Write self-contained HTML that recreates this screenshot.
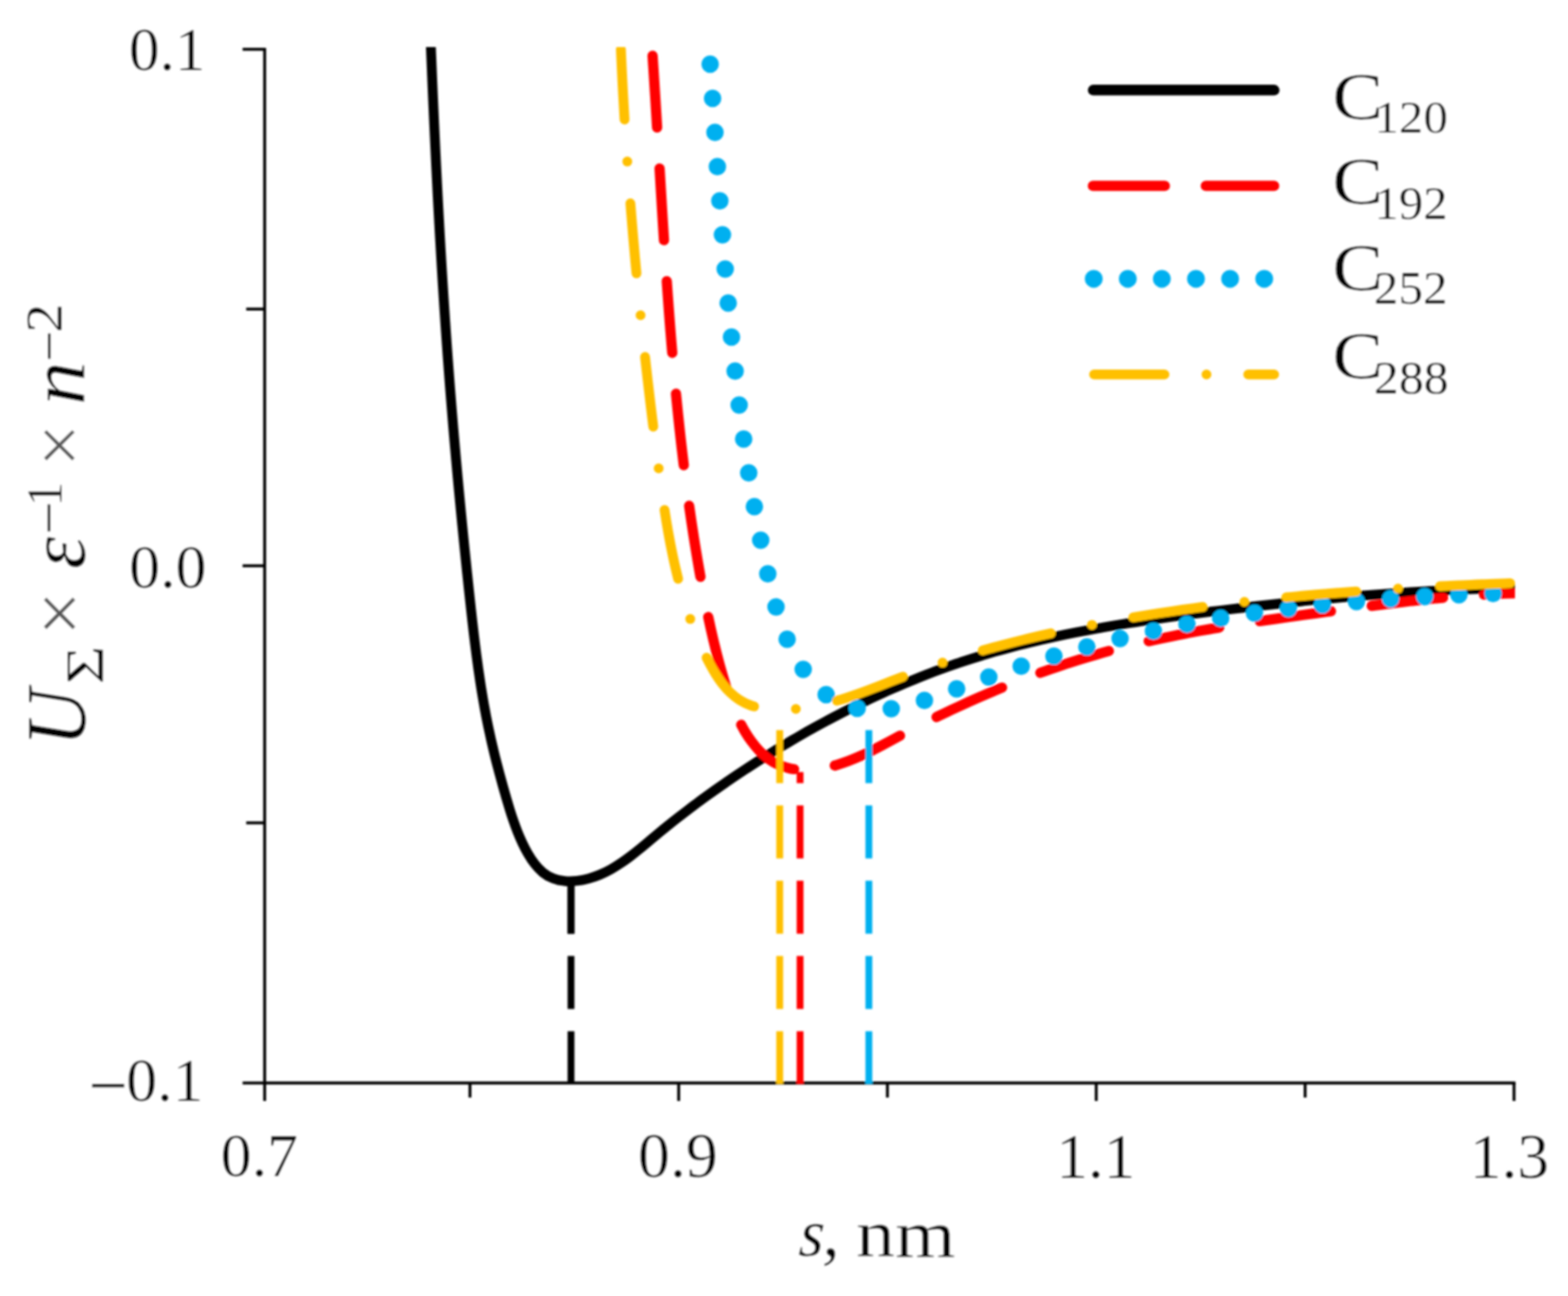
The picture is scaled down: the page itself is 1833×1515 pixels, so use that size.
<!DOCTYPE html>
<html><head><meta charset="utf-8"><title>Interaction potential</title>
<style>html,body{margin:0;padding:0;background:#fff;overflow:hidden}svg{display:block}</style>
</head><body>
<svg width="1833" height="1515" viewBox="0 0 1833 1515" font-family="'Liberation Serif', 'Times New Roman', serif">
<defs><clipPath id="pc"><rect x="309.0" y="55.0" width="1462.0" height="1211.0"/></clipPath>
<filter id="bl" x="-5%" y="-5%" width="110%" height="110%"><feGaussianBlur stdDeviation="1.00"/></filter></defs>
<rect width="1833" height="1515" fill="#fff"/>
<g filter="url(#bl)">
<g stroke="#000" stroke-width="3.4" fill="none" stroke-linecap="butt">
<path d="M309.4 57.6 V1266.0 H1769.9" stroke-linecap="square"/>
<path d="M283.6 57.6 H309.4"/>
<path d="M287.8 361.3 H309.4"/>
<path d="M283.6 661.4 H309.4"/>
<path d="M287.8 961.9 H309.4"/>
<path d="M283.6 1266.0 H309.4"/>
<path d="M309.4 1266.0 V1287.0"/>
<path d="M549.4 1266.0 V1283.0"/>
<path d="M793.4 1266.0 V1287.0"/>
<path d="M1037.4 1266.0 V1283.0"/>
<path d="M1281.5 1266.0 V1287.0"/>
<path d="M1525.7 1266.0 V1283.0"/>
<path d="M1769.9 1266.0 V1287.0"/>
</g>
<g clip-path="url(#pc)" fill="none" stroke-linecap="round" stroke-linejoin="round">
<path d="M503.10 40.02C503.29 44.69 503.47 49.37 503.66 54.05C503.85 58.73 504.04 63.40 504.24 68.08C504.43 72.76 504.62 77.44 504.82 82.11C505.02 86.79 505.21 91.47 505.41 96.15C505.61 100.82 505.81 105.50 506.02 110.18C506.22 114.85 506.43 119.53 506.64 124.21C506.84 128.88 507.05 133.56 507.27 138.24C507.48 142.92 507.69 147.59 507.91 152.27C508.13 156.94 508.34 161.62 508.57 166.30C508.79 170.97 509.01 175.65 509.24 180.33C509.46 185.00 509.69 189.68 509.92 194.35C510.16 199.03 510.39 203.71 510.63 208.38C510.86 213.06 511.10 217.73 511.35 222.41C511.59 227.08 511.83 231.76 512.08 236.43C512.33 241.11 512.58 245.78 512.84 250.46C513.09 255.13 513.35 259.81 513.61 264.48C513.87 269.15 514.13 273.83 514.40 278.50C514.67 283.18 514.94 287.85 515.21 292.52C515.48 297.20 515.76 301.87 516.04 306.54C516.32 311.22 516.61 315.89 516.89 320.56C517.18 325.23 517.47 329.91 517.77 334.58C518.06 339.25 518.36 343.92 518.66 348.59C518.97 353.27 519.27 357.94 519.58 362.61C519.89 367.28 520.21 371.95 520.52 376.62C520.84 381.29 521.16 385.96 521.49 390.63C521.81 395.30 522.14 399.97 522.48 404.64C522.81 409.31 523.15 413.98 523.49 418.65C523.84 423.32 524.18 427.99 524.54 432.66C524.89 437.33 525.24 441.99 525.60 446.66C525.96 451.33 526.33 456.00 526.70 460.66C527.07 465.33 527.44 470.00 527.82 474.66C528.20 479.33 528.58 483.99 528.97 488.66C529.36 493.33 529.75 497.99 530.14 502.65C530.54 507.32 530.94 511.98 531.34 516.65C531.75 521.31 532.16 525.98 532.57 530.64C532.98 535.30 533.40 539.97 533.82 544.63C534.24 549.29 534.67 553.95 535.09 558.61C535.52 563.28 535.96 567.94 536.39 572.60C536.83 577.26 537.27 581.92 537.72 586.58C538.16 591.24 538.61 595.90 539.06 600.56C539.51 605.22 539.97 609.88 540.43 614.54C540.89 619.20 541.35 623.86 541.82 628.51C542.29 633.17 542.76 637.83 543.24 642.49C543.71 647.14 544.19 651.80 544.67 656.46C545.15 661.11 545.64 665.77 546.13 670.43C546.62 675.08 547.11 679.74 547.60 684.39C548.10 689.05 548.60 693.70 549.10 698.36C549.60 703.01 550.11 707.67 550.62 712.32C551.13 716.97 551.65 721.63 552.18 726.28C552.71 730.93 553.24 735.58 553.79 740.23C554.34 744.88 554.90 749.53 555.48 754.17C556.06 758.82 556.66 763.46 557.27 768.10C557.88 772.74 558.52 777.38 559.17 782.02C559.83 786.65 560.51 791.28 561.21 795.91C561.92 800.54 562.65 805.16 563.41 809.78C564.17 814.40 564.96 819.02 565.78 823.63C566.60 828.24 567.45 832.84 568.34 837.44C569.23 842.03 570.15 846.62 571.11 851.20C572.07 855.78 573.07 860.36 574.11 864.93C575.14 869.49 576.21 874.05 577.31 878.60C578.41 883.15 579.55 887.70 580.71 892.23C581.87 896.77 583.06 901.30 584.28 905.81C585.50 910.34 586.74 914.85 588.01 919.35C589.28 923.87 590.57 928.37 591.88 932.85C593.20 937.35 594.53 941.84 595.91 946.30C597.30 950.77 598.73 955.22 600.27 959.66C601.79 964.05 603.41 968.44 605.16 972.82C606.89 977.11 608.74 981.40 610.77 985.69C612.75 989.87 614.90 994.07 617.25 998.15C619.61 1002.25 622.18 1006.21 625.00 1009.85C627.94 1013.65 631.15 1017.10 634.68 1019.98C638.36 1022.99 642.41 1025.35 646.78 1026.98C651.10 1028.59 655.72 1029.54 660.47 1029.94C665.05 1030.32 669.77 1030.19 674.48 1029.65C679.12 1029.12 683.75 1028.19 688.25 1026.96C692.81 1025.71 697.22 1024.16 701.51 1022.35C705.83 1020.53 710.02 1018.45 714.12 1016.17C718.19 1013.90 722.16 1011.42 726.06 1008.79C729.92 1006.19 733.71 1003.43 737.45 1000.58C741.16 997.75 744.82 994.82 748.45 991.84C752.06 988.88 755.65 985.86 759.23 982.85C762.83 979.83 766.41 976.82 770.01 973.85C773.63 970.86 777.26 967.90 780.90 964.98C784.56 962.04 788.23 959.13 791.91 956.26C795.61 953.37 799.31 950.51 803.03 947.68C806.76 944.84 810.50 942.03 814.26 939.24C818.02 936.45 821.80 933.68 825.59 930.94C829.38 928.20 833.19 925.48 837.02 922.78C840.84 920.08 844.68 917.40 848.54 914.75C852.39 912.09 856.26 909.46 860.15 906.84C864.03 904.23 867.93 901.64 871.84 899.06C875.75 896.49 879.67 893.94 883.62 891.41C887.55 888.88 891.50 886.37 895.47 883.88C899.44 881.40 903.42 878.93 907.41 876.48C911.40 874.04 915.41 871.62 919.43 869.22C923.45 866.82 927.49 864.45 931.54 862.10C935.58 859.75 939.64 857.42 943.72 855.11C947.79 852.81 951.88 850.53 955.99 848.27C960.09 846.02 964.20 843.78 968.33 841.58C972.46 839.37 976.60 837.19 980.76 835.04C984.92 832.88 989.09 830.75 993.27 828.65C997.45 826.55 1001.65 824.48 1005.86 822.43C1010.07 820.38 1014.29 818.36 1018.53 816.37C1022.77 814.37 1027.02 812.41 1031.28 810.47C1035.54 808.54 1039.82 806.63 1044.10 804.75C1048.39 802.88 1052.70 801.03 1057.01 799.21C1061.32 797.39 1065.65 795.61 1069.99 793.85C1074.33 792.09 1078.68 790.37 1083.05 788.68C1087.41 786.98 1091.79 785.32 1096.18 783.70C1100.57 782.07 1104.97 780.47 1109.38 778.91C1113.80 777.35 1118.22 775.82 1122.66 774.33C1127.10 772.84 1131.55 771.38 1136.00 769.96C1140.47 768.53 1144.94 767.15 1149.42 765.79C1153.90 764.44 1158.39 763.12 1162.89 761.84C1167.39 760.55 1171.91 759.30 1176.43 758.08C1180.94 756.86 1185.47 755.67 1190.01 754.51C1194.54 753.35 1199.09 752.22 1203.64 751.12C1208.19 750.02 1212.74 748.95 1217.31 747.90C1221.87 746.86 1226.44 745.84 1231.02 744.85C1235.59 743.86 1240.17 742.89 1244.76 741.95C1249.34 741.00 1253.93 740.08 1258.53 739.19C1263.12 738.29 1267.72 737.42 1272.33 736.56C1276.93 735.71 1281.54 734.88 1286.15 734.06C1290.76 733.25 1295.37 732.45 1299.99 731.68C1304.60 730.90 1309.22 730.14 1313.85 729.40C1318.47 728.65 1323.09 727.93 1327.72 727.21C1332.35 726.50 1336.97 725.80 1341.61 725.12C1346.24 724.43 1350.87 723.76 1355.50 723.10C1360.14 722.44 1364.78 721.79 1369.41 721.15C1374.05 720.51 1378.69 719.88 1383.33 719.25C1387.97 718.63 1392.61 718.02 1397.25 717.41C1401.89 716.80 1406.54 716.20 1411.18 715.61C1415.82 715.01 1420.47 714.42 1425.11 713.84C1429.76 713.26 1434.41 712.68 1439.05 712.12C1443.70 711.55 1448.35 710.99 1453.00 710.44C1457.64 709.88 1462.29 709.34 1466.94 708.80C1471.60 708.26 1476.25 707.73 1480.90 707.21C1485.55 706.69 1490.20 706.17 1494.86 705.67C1499.51 705.16 1504.17 704.66 1508.82 704.17C1513.48 703.68 1518.14 703.20 1522.79 702.73C1527.45 702.26 1532.11 701.79 1536.77 701.34C1541.43 700.88 1546.09 700.44 1550.75 700.00C1555.41 699.57 1560.07 699.14 1564.74 698.72C1569.40 698.30 1574.06 697.90 1578.73 697.50C1583.39 697.10 1588.06 696.71 1592.72 696.33C1597.39 695.96 1602.06 695.59 1606.72 695.23C1611.39 694.87 1616.06 694.53 1620.73 694.19C1625.40 693.85 1630.07 693.53 1634.74 693.21C1639.41 692.90 1644.08 692.59 1648.76 692.30C1653.43 692.01 1658.10 691.72 1662.77 691.45C1667.45 691.18 1672.12 690.92 1676.80 690.68C1681.47 690.43 1686.15 690.19 1690.82 689.97C1695.50 689.74 1700.18 689.53 1704.85 689.33C1709.53 689.13 1714.21 688.95 1718.89 688.77C1723.56 688.60 1728.24 688.43 1732.92 688.28C1737.60 688.13 1742.28 688.00 1746.96 687.87C1751.64 687.75 1756.32 687.64 1761.00 687.54C1765.68 687.44 1770.36 687.36 1775.04 687.28" stroke="#000000" stroke-width="11.5"/>
<path d="M762.88 65.19C763.19 69.87 763.50 74.54 763.81 79.21C764.11 83.89 764.41 88.56 764.71 93.24C765.01 97.91 765.31 102.58 765.60 107.26C765.90 111.93 766.19 116.61 766.48 121.29C766.77 125.96 767.05 130.63 767.34 135.31C767.63 139.98 767.91 144.66 768.19 149.34C768.48 154.01 768.76 158.69 769.04 163.36C769.32 168.04 769.60 172.71 769.88 177.39C770.16 182.06 770.44 186.74 770.72 191.41C771.00 196.09 771.28 200.76 771.57 205.44C771.85 210.12 772.13 214.79 772.41 219.47C772.70 224.14 772.98 228.82 773.27 233.49C773.55 238.17 773.84 242.84 774.13 247.52C774.42 252.19 774.71 256.87 775.00 261.54C775.30 266.22 775.59 270.89 775.89 275.57C776.19 280.24 776.49 284.91 776.80 289.59C777.10 294.26 777.41 298.94 777.72 303.61C778.04 308.28 778.35 312.96 778.67 317.63C778.99 322.30 779.32 326.97 779.65 331.65C779.98 336.32 780.31 340.99 780.65 345.66C780.99 350.33 781.33 355.01 781.68 359.68C782.03 364.35 782.38 369.02 782.75 373.69C783.11 378.36 783.47 383.03 783.85 387.70C784.22 392.37 784.60 397.03 784.98 401.70C785.37 406.37 785.76 411.04 786.17 415.70C786.57 420.37 786.97 425.04 787.39 429.70C787.80 434.37 788.23 439.03 788.66 443.70C789.09 448.36 789.53 453.02 789.98 457.69C790.43 462.35 790.88 467.01 791.35 471.67C791.81 476.33 792.29 480.99 792.77 485.65C793.26 490.31 793.75 494.97 794.26 499.62C794.76 504.28 795.27 508.94 795.80 513.59C796.32 518.24 796.86 522.90 797.40 527.55C797.95 532.20 798.50 536.85 799.07 541.50C799.64 546.15 800.22 550.80 800.81 555.44C801.40 560.09 802.00 564.74 802.62 569.38C803.23 574.02 803.86 578.67 804.50 583.30C805.14 587.95 805.79 592.58 806.46 597.22C807.12 601.86 807.80 606.49 808.49 611.12C809.18 615.76 809.89 620.39 810.61 625.01C811.33 629.64 812.06 634.27 812.81 638.89C813.56 643.52 814.32 648.14 815.10 652.76C815.88 657.38 816.67 661.99 817.48 666.61C818.28 671.22 819.11 675.83 819.94 680.44C820.78 685.05 821.64 689.65 822.52 694.25C823.39 698.85 824.29 703.45 825.21 708.04C826.13 712.63 827.07 717.22 828.04 721.81C829.01 726.39 830.01 730.96 831.03 735.54C832.06 740.10 833.11 744.67 834.20 749.23C835.29 753.78 836.41 758.32 837.56 762.87C838.72 767.40 839.91 771.93 841.14 776.46C842.37 780.97 843.63 785.48 844.94 789.98C846.25 794.47 847.59 798.96 849.00 803.44C850.40 807.91 851.86 812.36 853.42 816.77C854.98 821.20 856.64 825.58 858.41 829.91C860.19 834.25 862.10 838.53 864.16 842.73C866.22 846.94 868.44 851.07 870.83 855.09C873.23 859.10 875.81 863.01 878.60 866.79C881.39 870.57 884.39 874.21 887.59 877.58C890.86 881.02 894.35 884.18 898.05 886.94C901.86 889.77 905.89 892.16 910.14 894.04C914.42 895.92 918.90 897.31 923.51 898.28C928.05 899.22 932.71 899.75 937.45 899.93C942.08 900.10 946.78 899.94 951.48 899.49C956.13 899.05 960.77 898.33 965.37 897.39C969.98 896.46 974.52 895.30 978.99 893.96C983.49 892.62 987.92 891.10 992.29 889.44C996.67 887.78 1000.99 885.97 1005.27 884.05C1009.54 882.15 1013.77 880.13 1017.97 878.04C1022.16 875.96 1026.32 873.81 1030.47 871.63C1034.61 869.44 1038.74 867.23 1042.87 865.01C1046.99 862.79 1051.12 860.58 1055.26 858.39C1059.40 856.20 1063.55 854.03 1067.71 851.88C1071.88 849.73 1076.05 847.60 1080.23 845.49C1084.41 843.38 1088.61 841.29 1092.81 839.23C1097.01 837.16 1101.23 835.11 1105.45 833.09C1109.67 831.07 1113.91 829.07 1118.15 827.09C1122.40 825.11 1126.66 823.15 1130.92 821.22C1135.19 819.29 1139.47 817.38 1143.75 815.50C1148.04 813.61 1152.34 811.75 1156.65 809.92C1160.96 808.08 1165.28 806.27 1169.61 804.49C1173.94 802.70 1178.28 800.94 1182.63 799.21C1186.99 797.48 1191.35 795.77 1195.72 794.09C1200.09 792.41 1204.48 790.76 1208.87 789.14C1213.26 787.51 1217.67 785.92 1222.08 784.35C1226.49 782.78 1230.92 781.24 1235.35 779.73C1239.79 778.22 1244.23 776.74 1248.68 775.29C1253.14 773.84 1257.60 772.42 1262.07 771.03C1266.55 769.64 1271.03 768.28 1275.52 766.96C1280.01 765.63 1284.51 764.33 1289.02 763.07C1293.53 761.80 1298.05 760.57 1302.58 759.37C1307.11 758.17 1311.64 757.01 1316.19 755.87C1320.73 754.73 1325.28 753.62 1329.84 752.54C1334.39 751.46 1338.96 750.40 1343.53 749.38C1348.10 748.35 1352.67 747.35 1357.26 746.38C1361.84 745.40 1366.42 744.45 1371.02 743.52C1375.61 742.59 1380.20 741.69 1384.80 740.80C1389.40 739.92 1394.00 739.06 1398.61 738.21C1403.22 737.37 1407.83 736.55 1412.45 735.74C1417.06 734.94 1421.68 734.15 1426.30 733.37C1430.91 732.60 1435.54 731.85 1440.16 731.10C1444.79 730.36 1449.41 729.63 1454.04 728.92C1458.67 728.20 1463.30 727.50 1467.94 726.81C1472.57 726.11 1477.20 725.43 1481.84 724.76C1486.47 724.09 1491.11 723.42 1495.75 722.77C1500.38 722.11 1505.02 721.46 1509.66 720.82C1514.30 720.18 1518.94 719.54 1523.58 718.90C1528.23 718.27 1532.87 717.64 1537.51 717.01C1542.15 716.39 1546.79 715.76 1551.43 715.14C1556.08 714.51 1560.72 713.89 1565.36 713.26C1570.00 712.64 1574.65 712.02 1579.29 711.40C1583.93 710.78 1588.57 710.16 1593.22 709.55C1597.86 708.94 1602.51 708.34 1607.15 707.74C1611.80 707.14 1616.44 706.55 1621.09 705.98C1625.74 705.40 1630.39 704.83 1635.04 704.27C1639.69 703.71 1644.34 703.17 1649.00 702.64C1653.65 702.11 1658.30 701.59 1662.96 701.09C1667.62 700.59 1672.28 700.11 1676.94 699.64C1681.60 699.18 1686.26 698.73 1690.93 698.30C1695.59 697.88 1700.25 697.47 1704.92 697.09C1709.59 696.71 1714.26 696.35 1718.94 696.01C1723.60 695.68 1728.28 695.37 1732.96 695.09C1737.63 694.81 1742.30 694.55 1746.99 694.32C1751.66 694.10 1756.34 693.90 1761.03 693.73C1765.70 693.57 1770.38 693.43 1775.07 693.33" stroke="#FF0000" stroke-width="12.0" stroke-dasharray="84 48" stroke-dashoffset="0.00"/>
<path d="M830.17 75.04C830.50 79.70 830.84 84.37 831.17 89.03C831.51 93.70 831.84 98.36 832.17 103.03C832.50 107.69 832.83 112.36 833.16 117.03C833.49 121.69 833.82 126.36 834.14 131.03C834.47 135.69 834.80 140.36 835.12 145.03C835.45 149.69 835.77 154.36 836.10 159.02C836.43 163.69 836.75 168.35 837.08 173.02C837.41 177.69 837.74 182.35 838.07 187.02C838.40 191.69 838.73 196.35 839.06 201.02C839.40 205.68 839.73 210.35 840.07 215.01C840.41 219.68 840.75 224.34 841.09 229.01C841.43 233.67 841.78 238.34 842.12 243.00C842.47 247.67 842.82 252.33 843.18 257.00C843.53 261.66 843.89 266.33 844.26 270.99C844.62 275.65 844.99 280.32 845.36 284.98C845.73 289.64 846.11 294.30 846.49 298.97C846.87 303.63 847.26 308.29 847.65 312.95C848.04 317.61 848.44 322.27 848.84 326.93C849.24 331.59 849.65 336.25 850.07 340.91C850.49 345.57 850.91 350.23 851.34 354.89C851.77 359.55 852.20 364.20 852.65 368.86C853.09 373.52 853.54 378.17 854.00 382.83C854.46 387.48 854.93 392.14 855.40 396.79C855.88 401.44 856.36 406.09 856.86 410.75C857.35 415.40 857.85 420.05 858.36 424.70C858.87 429.35 859.39 434.00 859.92 438.64C860.45 443.29 860.99 447.94 861.54 452.58C862.09 457.23 862.65 461.87 863.23 466.51C863.80 471.16 864.38 475.80 864.97 480.44C865.57 485.08 866.17 489.72 866.79 494.35C867.41 498.99 868.03 503.62 868.68 508.26C869.32 512.89 869.97 517.52 870.64 522.15C871.31 526.78 871.99 531.41 872.68 536.03C873.38 540.66 874.09 545.28 874.81 549.90C875.54 554.52 876.27 559.14 877.03 563.76C877.78 568.38 878.55 572.99 879.33 577.60C880.12 582.21 880.92 586.82 881.74 591.43C882.55 596.03 883.38 600.63 884.24 605.24C885.08 609.83 885.95 614.43 886.84 619.03C887.72 623.62 888.62 628.21 889.54 632.80C890.46 637.38 891.40 641.96 892.35 646.54C893.31 651.12 894.28 655.69 895.28 660.27C896.27 664.83 897.28 669.40 898.31 673.97C899.34 678.53 900.40 683.09 901.50 687.64C902.59 692.19 903.73 696.73 904.92 701.24C906.12 705.77 907.37 710.28 908.70 714.76C910.03 719.25 911.44 723.71 912.94 728.14C914.44 732.57 916.04 736.97 917.74 741.32C919.45 745.68 921.27 749.99 923.22 754.24C925.17 758.49 927.25 762.68 929.47 766.80C931.69 770.91 934.05 774.94 936.57 778.90C939.08 782.82 941.74 786.68 944.59 790.41C947.43 794.14 950.44 797.74 953.65 801.12C956.89 804.53 960.32 807.73 963.96 810.62C967.64 813.54 971.54 816.14 975.62 818.40C979.72 820.68 983.99 822.62 988.37 824.22C992.78 825.83 997.30 827.10 1001.87 828.02C1006.46 828.94 1011.10 829.51 1015.78 829.78C1020.42 830.04 1025.10 830.00 1029.80 829.71C1034.42 829.42 1039.07 828.88 1043.74 828.13C1048.31 827.40 1052.90 826.47 1057.50 825.39C1062.01 824.32 1066.53 823.10 1071.05 821.77C1075.52 820.46 1079.98 819.03 1084.43 817.54C1088.86 816.05 1093.27 814.49 1097.67 812.89C1102.08 811.29 1106.47 809.66 1110.83 808.03C1115.25 806.38 1119.63 804.73 1123.98 803.12C1128.40 801.48 1132.79 799.87 1137.16 798.28C1141.58 796.68 1145.98 795.10 1150.36 793.54C1154.79 791.97 1159.20 790.42 1163.60 788.89C1168.03 787.36 1172.46 785.85 1176.88 784.36C1181.32 782.87 1185.75 781.40 1190.20 779.95C1194.64 778.50 1199.10 777.07 1203.57 775.66C1208.02 774.26 1212.49 772.88 1216.97 771.51C1221.44 770.15 1225.92 768.81 1230.41 767.49C1234.90 766.17 1239.39 764.87 1243.89 763.59C1248.39 762.31 1252.89 761.05 1257.41 759.81C1261.92 758.58 1266.43 757.36 1270.96 756.16C1275.48 754.96 1280.00 753.79 1284.54 752.63C1289.07 751.47 1293.61 750.33 1298.15 749.22C1302.69 748.10 1307.24 747.00 1311.79 745.92C1316.34 744.85 1320.90 743.79 1325.46 742.75C1330.02 741.71 1334.59 740.69 1339.16 739.69C1343.73 738.69 1348.30 737.71 1352.88 736.74C1357.45 735.78 1362.04 734.84 1366.62 733.92C1371.21 732.99 1375.80 732.09 1380.39 731.20C1384.98 730.31 1389.58 729.45 1394.18 728.60C1398.78 727.75 1403.38 726.92 1407.99 726.11C1412.60 725.30 1417.21 724.51 1421.82 723.73C1426.43 722.96 1431.05 722.20 1435.67 721.46C1440.29 720.72 1444.91 720.00 1449.53 719.30C1454.16 718.59 1458.78 717.91 1463.41 717.24C1468.04 716.57 1472.67 715.91 1477.31 715.28C1481.94 714.64 1486.58 714.02 1491.22 713.41C1495.85 712.81 1500.49 712.22 1505.14 711.65C1509.78 711.08 1514.42 710.52 1519.07 709.98C1523.72 709.43 1528.36 708.91 1533.01 708.39C1537.66 707.88 1542.31 707.38 1546.97 706.90C1551.62 706.42 1556.27 705.95 1560.93 705.49C1565.58 705.04 1570.24 704.60 1574.90 704.17C1579.56 703.74 1584.21 703.32 1588.87 702.92C1593.54 702.52 1598.20 702.13 1602.86 701.76C1607.52 701.38 1612.18 701.01 1616.85 700.66C1621.51 700.31 1626.18 699.97 1630.84 699.64C1635.51 699.31 1640.18 699.00 1644.85 698.69C1649.51 698.39 1654.18 698.09 1658.85 697.81C1663.52 697.52 1668.19 697.25 1672.86 696.99C1677.53 696.73 1682.20 696.47 1686.87 696.23C1691.54 695.99 1696.21 695.76 1700.89 695.53C1705.56 695.31 1710.23 695.09 1714.90 694.89C1719.58 694.68 1724.25 694.49 1728.92 694.30C1733.60 694.11 1738.27 693.93 1742.95 693.76C1747.62 693.59 1752.30 693.42 1756.97 693.27C1761.65 693.11 1766.32 692.96 1771.00 692.82C1775.67 692.68 1780.35 692.54 1785.02 692.42" stroke="#00B0F0" stroke-width="20.5" stroke-dasharray="0 40" stroke-dashoffset="0.00"/>
<path d="M725.06 39.88C725.26 44.58 725.46 49.27 725.66 53.96C725.87 58.65 726.08 63.34 726.30 68.03C726.51 72.72 726.74 77.41 726.97 82.10C727.20 86.79 727.44 91.48 727.68 96.16C727.92 100.86 728.17 105.54 728.43 110.23C728.69 114.92 728.95 119.61 729.22 124.29C729.49 128.98 729.76 133.67 730.04 138.36C730.33 143.04 730.61 147.73 730.91 152.41C731.20 157.10 731.50 161.79 731.81 166.47C732.12 171.16 732.43 175.84 732.75 180.53C733.07 185.21 733.39 189.89 733.72 194.58C734.06 199.26 734.39 203.94 734.74 208.63C735.08 213.31 735.43 217.99 735.79 222.67C736.14 227.36 736.51 232.04 736.87 236.72C737.24 241.40 737.62 246.08 738.00 250.76C738.38 255.44 738.76 260.12 739.16 264.80C739.55 269.47 739.95 274.15 740.35 278.83C740.76 283.51 741.17 288.19 741.59 292.86C742.00 297.54 742.42 302.21 742.85 306.89C743.28 311.57 743.72 316.24 744.16 320.92C744.60 325.59 745.04 330.26 745.50 334.94C745.95 339.61 746.41 344.28 746.87 348.96C747.33 353.63 747.80 358.30 748.28 362.97C748.75 367.64 749.23 372.31 749.72 376.98C750.21 381.65 750.70 386.32 751.20 390.99C751.70 395.66 752.20 400.33 752.71 404.99C753.22 409.66 753.74 414.33 754.26 419.00C754.78 423.66 755.30 428.33 755.84 432.99C756.37 437.66 756.90 442.32 757.45 446.98C757.99 451.65 758.54 456.31 759.09 460.97C759.65 465.64 760.21 470.30 760.77 474.96C761.34 479.62 761.91 484.28 762.48 488.94C763.06 493.60 763.64 498.26 764.23 502.92C764.81 507.58 765.40 512.23 766.00 516.89C766.60 521.55 767.20 526.20 767.81 530.86C768.41 535.52 769.03 540.17 769.64 544.83C770.26 549.48 770.88 554.13 771.52 558.79C772.15 563.44 772.79 568.09 773.44 572.74C774.10 577.39 774.76 582.04 775.45 586.68C776.14 591.33 776.85 595.97 777.58 600.61C778.31 605.25 779.07 609.88 779.85 614.51C780.64 619.14 781.45 623.76 782.30 628.38C783.15 633.00 784.03 637.61 784.96 642.21C785.88 646.82 786.84 651.41 787.85 656.00C788.86 660.58 789.91 665.16 791.02 669.72C792.12 674.29 793.27 678.84 794.48 683.37C795.69 687.91 796.95 692.43 798.27 696.94C799.60 701.44 800.98 705.93 802.42 710.40C803.87 714.86 805.38 719.31 806.96 723.73C808.54 728.15 810.18 732.55 811.90 736.92C813.62 741.28 815.41 745.62 817.28 749.94C819.14 754.24 821.08 758.51 823.10 762.76C825.12 766.99 827.21 771.21 829.40 775.36C831.61 779.54 833.92 783.64 836.37 787.60C838.87 791.64 841.52 795.54 844.35 799.20C847.26 802.97 850.37 806.50 853.72 809.70C857.14 812.98 860.80 815.91 864.76 818.41C868.69 820.89 872.92 822.93 877.41 824.52C881.75 826.06 886.32 827.21 891.04 828.03C895.59 828.82 900.28 829.30 905.04 829.53C909.69 829.76 914.40 829.75 919.12 829.55C923.82 829.35 928.52 828.96 933.16 828.44C937.86 827.92 942.51 827.25 947.10 826.45C951.75 825.65 956.35 824.72 960.91 823.68C965.50 822.63 970.05 821.46 974.56 820.21C979.09 818.95 983.59 817.60 988.05 816.17C992.53 814.74 996.98 813.24 1001.40 811.68C1005.83 810.12 1010.24 808.50 1014.63 806.85C1019.03 805.20 1023.41 803.51 1027.79 801.81C1032.16 800.11 1036.53 798.39 1040.90 796.68C1045.28 794.97 1049.65 793.26 1054.03 791.58C1058.42 789.90 1062.81 788.25 1067.22 786.62C1071.62 785.00 1076.04 783.41 1080.47 781.85C1084.90 780.29 1089.34 778.77 1093.79 777.26C1098.24 775.77 1102.70 774.29 1107.16 772.85C1111.63 771.41 1116.11 770.00 1120.60 768.61C1125.08 767.22 1129.58 765.86 1134.08 764.53C1138.58 763.20 1143.09 761.89 1147.61 760.61C1152.12 759.33 1156.65 758.08 1161.18 756.85C1165.71 755.62 1170.25 754.41 1174.79 753.23C1179.34 752.05 1183.89 750.89 1188.44 749.75C1193.00 748.61 1197.56 747.50 1202.13 746.41C1206.69 745.31 1211.26 744.24 1215.84 743.19C1220.42 742.14 1225.00 741.11 1229.58 740.10C1234.17 739.09 1238.76 738.10 1243.35 737.12C1247.94 736.15 1252.54 735.20 1257.14 734.26C1261.74 733.32 1266.35 732.40 1270.95 731.50C1275.56 730.60 1280.17 729.71 1284.79 728.84C1289.40 727.97 1294.02 727.11 1298.64 726.27C1303.26 725.43 1307.88 724.61 1312.50 723.80C1317.13 722.99 1321.76 722.20 1326.39 721.42C1331.02 720.64 1335.65 719.88 1340.28 719.13C1344.92 718.38 1349.56 717.65 1354.20 716.93C1358.84 716.21 1363.48 715.50 1368.12 714.81C1372.77 714.12 1377.41 713.44 1382.06 712.77C1386.71 712.11 1391.36 711.46 1396.01 710.82C1400.66 710.18 1405.31 709.56 1409.97 708.95C1414.62 708.34 1419.28 707.74 1423.94 707.15C1428.60 706.57 1433.26 705.99 1437.92 705.43C1442.58 704.87 1447.24 704.32 1451.91 703.78C1456.57 703.25 1461.24 702.72 1465.91 702.21C1470.57 701.69 1475.24 701.19 1479.91 700.70C1484.58 700.21 1489.25 699.73 1493.92 699.26C1498.59 698.79 1503.27 698.34 1507.94 697.89C1512.62 697.44 1517.29 697.00 1521.97 696.58C1526.64 696.15 1531.32 695.73 1536.00 695.33C1540.67 694.92 1545.35 694.52 1550.03 694.13C1554.71 693.75 1559.39 693.37 1564.07 693.00C1568.75 692.63 1573.43 692.27 1578.12 691.92C1582.80 691.57 1587.48 691.23 1592.16 690.89C1596.85 690.56 1601.53 690.23 1606.21 689.92C1610.90 689.60 1615.58 689.29 1620.27 688.99C1624.96 688.68 1629.64 688.39 1634.33 688.10C1639.01 687.82 1643.70 687.54 1648.39 687.27C1653.08 686.99 1657.76 686.73 1662.45 686.47C1667.14 686.21 1671.83 685.96 1676.52 685.71C1681.21 685.47 1685.89 685.23 1690.58 684.99C1695.27 684.76 1699.96 684.53 1704.65 684.31C1709.34 684.09 1714.03 683.87 1718.72 683.66C1723.41 683.45 1728.11 683.25 1732.80 683.05C1737.49 682.85 1742.18 682.65 1746.87 682.46C1751.56 682.27 1756.25 682.08 1760.94 681.90C1765.64 681.72 1770.33 681.54 1775.02 681.36" stroke="#FFC000" stroke-width="11.5" stroke-dasharray="82 49.15 0 49.15" stroke-dashoffset="-18.03"/>
</g>
<path d="M667.5 1031.0 V1091.5" stroke="#000000" stroke-width="8.0" stroke-linecap="butt" fill="none"/>
<path d="M667.5 1029.5 V1091.5" stroke="#000000" stroke-width="8.0" stroke-linecap="butt" fill="none"/>
<path d="M667.5 1117.5 V1179.5" stroke="#000000" stroke-width="8.0" stroke-linecap="butt" fill="none"/>
<path d="M667.5 1205.5 V1267.0" stroke="#000000" stroke-width="8.0" stroke-linecap="butt" fill="none"/>
<path d="M935.3 902.5 V915.5" stroke="#FF0000" stroke-width="8.0" stroke-linecap="butt" fill="none"/>
<path d="M935.3 941.5 V1003.5" stroke="#FF0000" stroke-width="8.0" stroke-linecap="butt" fill="none"/>
<path d="M935.3 1029.5 V1091.5" stroke="#FF0000" stroke-width="8.0" stroke-linecap="butt" fill="none"/>
<path d="M935.3 1117.5 V1179.5" stroke="#FF0000" stroke-width="8.0" stroke-linecap="butt" fill="none"/>
<path d="M935.3 1205.5 V1267.0" stroke="#FF0000" stroke-width="8.0" stroke-linecap="butt" fill="none"/>
<path d="M911.5 853.5 V915.5" stroke="#FFC000" stroke-width="8.0" stroke-linecap="butt" fill="none"/>
<path d="M911.5 941.5 V1003.5" stroke="#FFC000" stroke-width="8.0" stroke-linecap="butt" fill="none"/>
<path d="M911.5 1029.5 V1091.5" stroke="#FFC000" stroke-width="8.0" stroke-linecap="butt" fill="none"/>
<path d="M911.5 1117.5 V1179.5" stroke="#FFC000" stroke-width="8.0" stroke-linecap="butt" fill="none"/>
<path d="M911.5 1205.5 V1267.0" stroke="#FFC000" stroke-width="8.0" stroke-linecap="butt" fill="none"/>
<path d="M1015.7 853.5 V915.5" stroke="#00B0F0" stroke-width="8.0" stroke-linecap="butt" fill="none"/>
<path d="M1015.7 941.5 V1003.5" stroke="#00B0F0" stroke-width="8.0" stroke-linecap="butt" fill="none"/>
<path d="M1015.7 1029.5 V1091.5" stroke="#00B0F0" stroke-width="8.0" stroke-linecap="butt" fill="none"/>
<path d="M1015.7 1117.5 V1179.5" stroke="#00B0F0" stroke-width="8.0" stroke-linecap="butt" fill="none"/>
<path d="M1015.7 1205.5 V1267.0" stroke="#00B0F0" stroke-width="8.0" stroke-linecap="butt" fill="none"/>
<path d="M1278 105.3H1489.5" stroke="#000" stroke-width="12.5" stroke-linecap="round"/>
<path d="M1277.6 217.3H1361.7M1409.6 217.3H1489.5" stroke="#FF0000" stroke-width="12" stroke-linecap="round"/>
<path d="M1278.6 325.9h0M1318.4 325.9h0M1358.2 325.9h0M1398.1 325.9h0M1438 325.9h0M1477.9 325.9h0" stroke="#00B0F0" stroke-width="21" stroke-linecap="round"/>
<path d="M1279 437.8H1361.3M1410.4 437.8h0M1459.2 437.8H1489.5" stroke="#FFC000" stroke-width="11.5" stroke-linecap="round"/>
<g stroke="#fff" stroke-width="0.50" paint-order="fill">
<text x="150.8" y="82.4" font-size="71.5" font-style="normal" fill="#000">0.1</text>
<text x="151.1" y="686.7" font-size="72.1" font-style="normal" fill="#000">0.0</text>
<text x="147.6" y="1287.4" font-size="72.2" font-style="normal" fill="#000">0.1</text>
<text transform="translate(103.7 1300.3) scale(0.881 1)" font-size="92.0" font-style="normal" fill="#000">−</text>
<text x="258.1" y="1375.3" font-size="72.1" font-style="normal" fill="#000">0.7</text>
<text x="745.8" y="1376.4" font-size="74.7" font-style="normal" fill="#000">0.9</text>
<text x="1234.7" y="1376.6" font-size="74.2" font-style="normal" fill="#000">1.1</text>
<text x="1718.2" y="1376.6" font-size="74.2" font-style="normal" fill="#000">1.3</text>
<text transform="translate(932.8 1468.2) skewX(-5.0) scale(0.948 1)" font-size="79.2" font-style="italic" fill="#000">s</text>
<text x="961.1" y="1467.6" font-size="82.4" font-style="italic" fill="#000">,</text>
<text transform="translate(1000.7 1468.8) scale(1.151 1)" font-size="79.1" font-style="normal" fill="#000">nm</text>
<text transform="translate(1557.5 138.5) scale(1.131 1)" font-size="78.8" font-style="normal" fill="#000">C</text>
<text transform="translate(1606.7 155.3) scale(1.065 1)" font-size="53.8" font-style="normal" fill="#000">120</text>
<text transform="translate(1557.5 238.1) scale(1.146 1)" font-size="77.8" font-style="normal" fill="#000">C</text>
<text transform="translate(1606.8 255.5) scale(1.032 1)" font-size="55.2" font-style="normal" fill="#000">192</text>
<text transform="translate(1557.5 338.5) scale(1.131 1)" font-size="78.8" font-style="normal" fill="#000">C</text>
<text transform="translate(1606.0 355.2) scale(1.041 1)" font-size="55.2" font-style="normal" fill="#000">252</text>
<text transform="translate(1557.5 442.1) scale(1.144 1)" font-size="77.9" font-style="normal" fill="#000">C</text>
<text transform="translate(1606.0 459.5) scale(1.067 1)" font-size="54.7" font-style="normal" fill="#000">288</text>
<text transform="translate(99.0 872.4) rotate(-90) scale(0.946 1)" font-size="98.8" font-style="italic" fill="#000">U</text>
<text transform="translate(120.6 799.9) rotate(-90) scale(1.209 1)" font-size="64.1" font-style="normal" fill="#000">Σ</text>
<text transform="translate(99.9 743.1) rotate(-90) scale(1.003 1)" font-size="91.6" font-style="normal" fill="#555">×</text>
<text transform="translate(99.4 664.9) rotate(-90) scale(1.009 1)" font-size="94.8" font-style="italic" fill="#000">ε</text>
<text transform="translate(71.7 592.1) rotate(-90) scale(0.967 1)" font-size="59.1" font-style="normal" fill="#000">1</text>
<text transform="translate(99.1 545.6) rotate(-90) scale(1.000 1)" font-size="88.6" font-style="normal" fill="#555">×</text>
<text transform="translate(98.9 473.7) rotate(-90) scale(1.116 1)" font-size="92.1" font-style="italic" fill="#000">n</text>
<text transform="translate(71.5 389.1) rotate(-90) scale(1.108 1)" font-size="61.8" font-style="normal" fill="#000">2</text>
<text transform="translate(80.0 624.4) rotate(-90) scale(1.000 1)" font-size="68.8" font-style="normal" fill="#000">−</text>
<text transform="translate(78.6 422.7) rotate(-90) scale(1.000 1)" font-size="64.5" font-style="normal" fill="#000">−</text>
</g>
</g>
</svg>
</body></html>
